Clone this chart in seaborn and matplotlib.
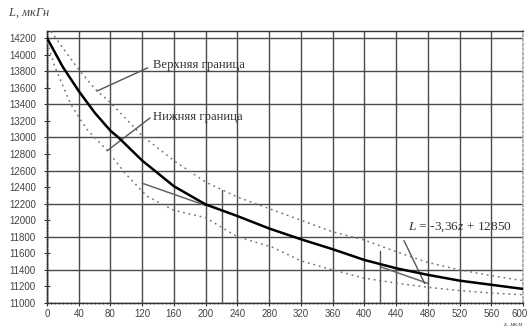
import matplotlib
matplotlib.use("Agg")
import matplotlib.pyplot as plt
from matplotlib.ticker import MultipleLocator
from matplotlib.transforms import ScaledTranslation
import seaborn as sns
import pandas as pd

# ---- data ----
z_main = [0, 20, 40, 60, 80, 90, 120, 160, 200, 240, 280, 320, 360, 400, 440, 480, 520, 560, 600]
L_main = [14200, 13850, 13560, 13300, 13080, 13000, 12720, 12410, 12190, 12050, 11900, 11770,
          11650, 11520, 11420, 11340, 11270, 11220, 11170]

z_upper = [5, 20, 40, 60, 80, 120, 160, 200, 240, 280, 320, 360, 400, 440, 480, 520, 560, 600]
L_upper = [14280, 14080, 13820, 13590, 13420, 13020, 12720, 12460, 12280, 12140, 12000, 11860,
           11760, 11620, 11490, 11400, 11330, 11270]

z_lower = [0, 10, 30, 50, 76, 100, 126, 160, 200, 240, 285, 320, 360, 400, 440, 480, 520, 560, 600]
L_lower = [14150, 13850, 13400, 13100, 12840, 12550, 12290, 12120, 12030, 11800, 11670, 11510,
           11400, 11300, 11240, 11190, 11150, 11120, 11100]

fit_slope = -3.36
fit_intercept = 12850
fit_segments = [(120, 200), (420, 480)]
marker_z = [220, 420]
marker_L = [12360, 11630]

x_ticks = list(range(0, 601, 40))
y_ticks = list(range(11000, 14201, 200))

label_upper = "Верхняя граница"
label_lower = "Нижняя граница"
label_fit = "$L$ = -3,36$z$ + 12850"
y_label = "$L$, мкГн"
x_label = "$z$, мкм"

# ---- figure ----
sns.set_theme(style="white")
plt.rcParams['font.family'] = ['Liberation Sans', 'DejaVu Sans']
plt.rcParams['mathtext.fontset'] = 'custom'
plt.rcParams['mathtext.it'] = 'Liberation Serif:italic'
plt.rcParams['mathtext.rm'] = 'Liberation Serif'

fig = plt.figure(figsize=(5.28, 3.29), dpi=100)
ax = fig.add_axes([47 / 528, 1 - 303 / 329, 476 / 528, 272 / 329])

grid_col = "#4a4a4a"
for gx in x_ticks:
    ax.axvline(gx, color=grid_col, lw=1.0, zorder=1)
for gy in range(11000, 14201, 400):
    ax.axhline(gy, color=grid_col, lw=1.0, zorder=1)

df_main = pd.DataFrame({"z": z_main, "L": L_main})
df_up = pd.DataFrame({"z": z_upper, "L": L_upper})
df_lo = pd.DataFrame({"z": z_lower, "L": L_lower})

sns.lineplot(data=df_up, x="z", y="L", ax=ax, color="#777777", lw=1.1,
             linestyle=(0, (1.2, 2.5)), zorder=3)
sns.lineplot(data=df_lo, x="z", y="L", ax=ax, color="#777777", lw=1.1,
             linestyle=(0, (1.2, 2.5)), zorder=3)
sns.lineplot(data=df_main, x="z", y="L", ax=ax, color="black", lw=1.8, zorder=4)

for a, b in fit_segments:
    ax.plot([a, b], [fit_slope * a + fit_intercept, fit_slope * b + fit_intercept],
            color="#666666", lw=1.1, zorder=3)
for mz, mL in zip(marker_z, marker_L):
    ax.plot([mz, mz], [11000, mL], color="#555555", lw=1.0, zorder=3)

# annotations
serif = ['Liberation Serif', 'DejaVu Serif']
ax.plot([127, 63], [13840, 13560], color="#555555", lw=1.0, zorder=3)
ax.text(134, 13880, label_upper, family=serif, fontsize=9.2, va="center", ha="left",
        color="#333333", zorder=5)
ax.plot([130, 76], [13236, 12840], color="#555555", lw=1.0, zorder=3)
ax.text(134, 13250, label_lower, family=serif, fontsize=9.2, va="center", ha="left",
        color="#333333", zorder=5)
ax.plot([450, 476], [11754, 11236], color="#555555", lw=1.0, zorder=3)
ax.text(455, 11920, label_fit, family=serif, fontsize=9.6, va="center", ha="left",
        color="#333333", zorder=5)

ax.set_xlim(0, 600)
ax.set_ylim(11000, 14285)
ax.set_xticks(x_ticks)
ax.set_yticks(y_ticks)
ax.xaxis.set_minor_locator(MultipleLocator(5))
ax.yaxis.set_minor_locator(MultipleLocator(25))
ax.tick_params(axis="both", which="major", labelsize=7, labelcolor="#444444",
               direction="inout", length=4, width=0.8, color="#333333")
ax.tick_params(axis="y", which="major", pad=6)
ax.tick_params(axis="x", which="major", pad=2)
ax.tick_params(axis="both", which="minor", direction="inout", length=2, width=0.6,
               color="#555555")
ax.tick_params(axis="x", bottom=True, which="both")
ax.tick_params(axis="y", left=True, which="both")
ax.set_xlabel("")
ax.set_ylabel("")

# keep the last x tick label inside the figure
last = ax.get_xticklabels()[-1]
last.set_horizontalalignment("right")
last.set_transform(last.get_transform() + ScaledTranslation(5 / 100, 0, fig.dpi_scale_trans))

for side in ["left", "bottom", "top"]:
    ax.spines[side].set_color("#333333")
    ax.spines[side].set_linewidth(1.0)
ax.spines["right"].set_color("#aaaaaa")
ax.spines["right"].set_linestyle(":")

fig.text(8 / 528, 1 - 13 / 329, y_label, fontsize=9, color="#444444", va="center",
         family=serif, style="italic")
fig.text(503 / 528, 1 - 325 / 329, x_label, fontsize=5, color="#444444", va="center",
         family=serif, style="italic")

fig.savefig("out.png", dpi=100, facecolor="white")
